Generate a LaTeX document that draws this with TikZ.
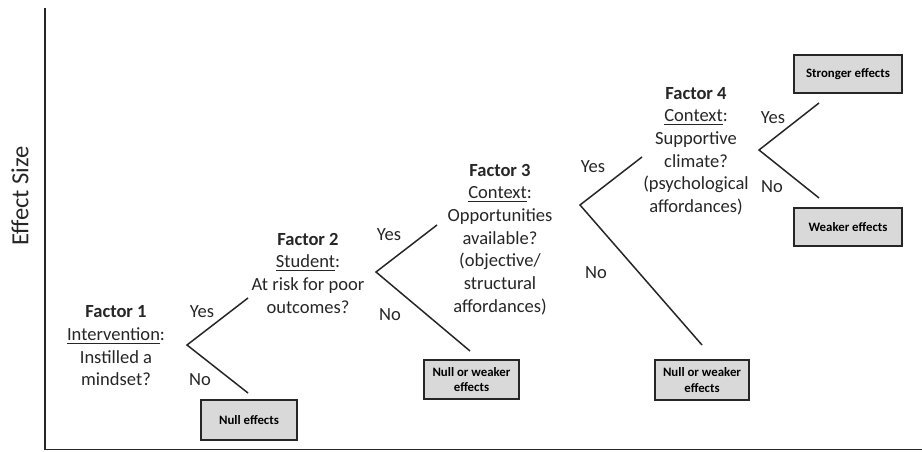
\documentclass[tikz,border=0pt]{standalone}
\usepackage{fontspec}
\setmainfont{Carlito}
\usetikzlibrary{positioning}
\definecolor{boxgray}{HTML}{D9D9D9}
\definecolor{inkgray}{HTML}{262626}
\tikzset{%
  >=latex,
  factor/.style={align=center,inner sep=0pt,outer sep=0pt,text=inkgray,
    font=\fontsize{10.55}{12.9}\selectfont},
  answer/.style={inner sep=0pt,text=inkgray,
    font=\fontsize{10.55}{12.9}\selectfont},
  effectbox/.style={draw=inkgray,line width=0.9pt,fill=boxgray,align=center,
    inner sep=0pt,text=black,font=\bfseries\fontsize{7.3}{8.6}\selectfont},
  branch/.style={draw=inkgray,line width=0.85pt},
  axis/.style={draw=inkgray,line width=1.1pt}
}
\begin{document}
\begin{tikzpicture}[x=0.02cm,y=-0.02cm]
	%% frame
	\useasboundingbox (0,0) rectangle (922,452);
	
	%% axes
	\coordinate (top) at (45,8);
	\coordinate (origin) at (45,449.5);
	\coordinate (right) at (922,449.5);
	\draw[axis] (top) -- (origin) -- (right);
	\node[rotate=90,text=inkgray,font=\fontsize{14}{16}\selectfont] (ylabel) at (20,196) {Effect Size};
	
	%% factor questions
	\node[factor] (f1) at (116,346) {\textbf{Factor 1}\\\underline{Intervention}:\\Instilled a\\mindset?};
	\node[factor] (f2) at (308,273) {\textbf{Factor 2}\\\underline{Student}:\\At risk for poor\\outcomes?};
	\node[factor] (f3) at (500,239.5) {\textbf{Factor 3}\\\underline{Context}:\\Opportunities\\available?\\(objective/\\structural\\affordances)};
	\node[factor] (f4) at (696,151) {\textbf{Factor 4}\\\underline{Context}:\\Supportive\\climate?\\(psychological\\affordances)};
	
	%% outcome boxes
	\node[effectbox,minimum width=1.92cm,minimum height=0.8cm] (null1) at (249,420) {Null effects};
	\node[effectbox,minimum width=1.9cm,minimum height=0.79cm] (null2) at (471.5,379.5) {Null or weaker\\effects};
	\node[effectbox,minimum width=1.88cm,minimum height=0.8cm] (null3) at (702,380) {Null or weaker\\effects};
	\node[effectbox,minimum width=2.16cm,minimum height=0.76cm] (strong) at (848,74) {Stronger effects};
	\node[effectbox,minimum width=2.16cm,minimum height=0.76cm] (weak) at (848,227) {Weaker effects};
	
	%% branch points
	\coordinate (b1) at (187,345);
	\coordinate (b1y) at (248,298);
	\coordinate (b1n) at (248,393);
	\coordinate (b2) at (376,272);
	\coordinate (b2y) at (437,225);
	\coordinate (b2n) at (470,351);
	\coordinate (b3) at (580,205);
	\coordinate (b3y) at (642,157);
	\coordinate (b3n) at (702,345);
	\coordinate (b4) at (759,150);
	\coordinate (b4y) at (819,103);
	\coordinate (b4n) at (819,198);
	
	\draw[branch] (b1y) -- (b1) -- (b1n);
	\draw[branch] (b2y) -- (b2) -- (b2n);
	\draw[branch] (b3y) -- (b3) -- (b3n);
	\draw[branch] (b4y) -- (b4) -- (b4n);
	
	%% yes / no
	\node[answer] (y1) at (202,312) {Yes};
	\node[answer] (n1) at (200,380) {No};
	\node[answer] (y2) at (389,235) {Yes};
	\node[answer] (n2) at (390,315) {No};
	\node[answer] (y3) at (593,167) {Yes};
	\node[answer] (n3) at (596,273) {No};
	\node[answer] (y4) at (773,118) {Yes};
	\node[answer] (n4) at (772,187) {No};
\end{tikzpicture}
\end{document}
